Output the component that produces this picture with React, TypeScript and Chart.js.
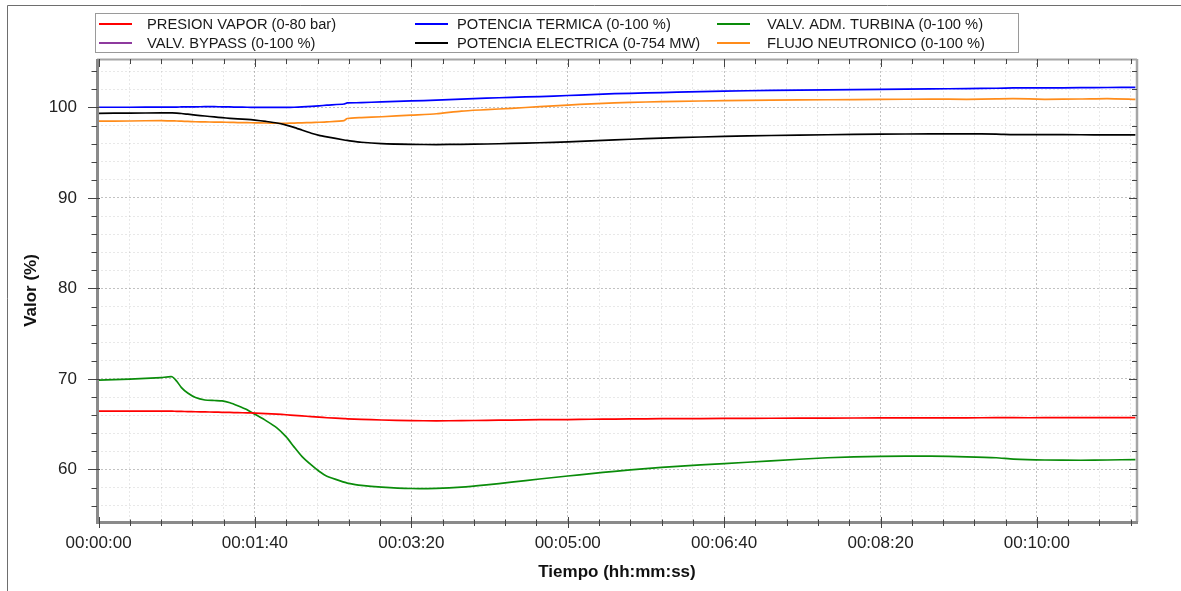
import React, { useEffect, useRef } from "react";
import { Chart, registerables } from "chart.js";

Chart.register(...registerables);

// ---- DATA ----
const timeSec = [
  0, 20, 40, 47, 50, 53, 57, 62, 68, 74, 79, 84, 89, 95, 100, 107, 114, 120, 125, 130,
  136, 141, 146, 157, 159, 168, 181, 200, 216, 232, 248, 264, 282, 300, 315, 330, 350, 370, 400, 430,
  466, 500, 532, 555, 574, 585, 605, 628, 645, 663,
];

const presionVapor = [
  66.45, 66.45, 66.45, 66.44, 66.43, 66.42, 66.4, 66.38, 66.36, 66.34, 66.32, 66.3, 66.28, 66.26, 66.23, 66.18, 66.12, 66.05, 65.98, 65.92,
  65.85, 65.78, 65.72, 65.62, 65.6, 65.54, 65.47, 65.4, 65.38, 65.4, 65.43, 65.46, 65.5, 65.52, 65.55, 65.57, 65.6, 65.62, 65.64, 65.66,
  65.68, 65.7, 65.7, 65.71, 65.72, 65.72, 65.72, 65.73, 65.73, 65.73,
];

const valvAdmTurbina = [
  69.88, 69.98, 70.15, 70.25, 69.75, 69.05, 68.45, 67.95, 67.68, 67.62, 67.58, 67.38, 67.05, 66.6, 66.1, 65.4, 64.6, 63.6, 62.5, 61.45,
  60.5, 59.8, 59.25, 58.6, 58.5, 58.25, 58.05, 57.9, 57.92, 58.05, 58.3, 58.6, 58.95, 59.28, 59.55, 59.8, 60.1, 60.35, 60.65, 60.95,
  61.3, 61.45, 61.47, 61.4, 61.3, 61.15, 61.05, 61.02, 61.05, 61.1,
];

const potenciaTermica = [
  100.02, 100.02, 100.03, 100.03, 100.04, 100.05, 100.06, 100.07, 100.08, 100.08, 100.07, 100.05, 100.03, 100.02, 100.01, 100.0, 100.0, 100.0, 100.02, 100.06,
  100.12, 100.18, 100.25, 100.38, 100.5, 100.52, 100.62, 100.72, 100.8, 100.92, 101.02, 101.12, 101.2, 101.32, 101.42, 101.52, 101.6, 101.68, 101.8, 101.88,
  101.95, 102.0, 102.05, 102.08, 102.12, 102.15, 102.15, 102.18, 102.2, 102.22,
];

const potenciaElectrica = [
  99.35, 99.37, 99.4, 99.4, 99.37, 99.33, 99.25, 99.15, 99.05, 98.95, 98.87, 98.8, 98.74, 98.68, 98.6, 98.45, 98.28, 98.05, 97.8, 97.5,
  97.15, 96.92, 96.75, 96.4, 96.35, 96.15, 96.0, 95.92, 95.9, 95.92, 95.96, 96.02, 96.1, 96.2, 96.3, 96.42, 96.55, 96.66, 96.8, 96.9,
  96.98, 97.05, 97.07, 97.08, 97.05, 97.0, 97.0, 96.98, 96.97, 96.97,
];

const flujoNeutronico = [
  98.48, 98.5, 98.55, 98.52, 98.5, 98.48, 98.45, 98.42, 98.4, 98.38, 98.37, 98.35, 98.33, 98.31, 98.3, 98.28, 98.25, 98.25, 98.27, 98.3,
  98.33, 98.36, 98.4, 98.55, 98.78, 98.88, 98.97, 99.15, 99.3, 99.6, 99.75, 99.9, 100.08, 100.25, 100.4, 100.5, 100.6, 100.67, 100.75, 100.8,
  100.85, 100.88, 100.92, 100.9, 100.95, 100.97, 100.9, 100.93, 100.98, 100.9,
];

const bypassTimeSec = [0, 663];
const valvBypass = [0, 0];

const seriesLabels = [
  "PRESION VAPOR (0-80 bar)",
  "POTENCIA TERMICA (0-100 %)",
  "VALV. ADM. TURBINA (0-100 %)",
  "VALV. BYPASS (0-100 %)",
  "POTENCIA ELECTRICA (0-754 MW)",
  "FLUJO NEUTRONICO (0-100 %)",
];
const seriesColors = ["#ff0000", "#0000ff", "#0a8c0a", "#8e3a9e", "#000000", "#ff8c1a"];

const xTitle = "Tiempo (hh:mm:ss)";
const yTitle = "Valor (%)";

const FONT = "'Liberation Sans', Arial, sans-serif";

function fmtTime(v: number): string {
  const s = Math.round(v);
  const h = Math.floor(s / 3600);
  const m = Math.floor((s % 3600) / 60);
  const sec = s % 60;
  const p = (n: number) => String(n).padStart(2, "0");
  return `${p(h)}:${p(m)}:${p(sec)}`;
}

const isMult = (v: number, step: number) => Math.abs(v / step - Math.round(v / step)) < 1e-6;

const toPoints = (xs: number[], ys: number[]) => xs.map((x, i) => ({ x, y: ys[i] }));

const framePlugin = {
  id: "framePlugin",
  beforeDraw(chart: any) {
    const ctx = chart.ctx;
    ctx.save();
    ctx.strokeStyle = "#6e6e6e";
    ctx.lineWidth = 1;
    ctx.beginPath();
    ctx.moveTo(7.5, 591);
    ctx.lineTo(7.5, 5.5);
    ctx.lineTo(1181, 5.5);
    ctx.stroke();
    ctx.restore();
  },
  afterDatasetsDraw(chart: any) {
    const ctx = chart.ctx;
    const { left, right, top, bottom } = chart.chartArea;
    const xs = chart.scales.x;
    const ys = chart.scales.y;
    ctx.save();
    ctx.strokeStyle = "#a6a6a6";
    ctx.lineWidth = 2;
    ctx.beginPath();
    ctx.moveTo(left, top + 0.5);
    ctx.lineTo(right, top + 0.5);
    ctx.stroke();
    ctx.lineWidth = 2.5;
    ctx.beginPath();
    ctx.moveTo(right, top);
    ctx.lineTo(right, bottom);
    ctx.stroke();
    ctx.strokeStyle = "#8a8a8a";
    ctx.lineWidth = 3;
    ctx.beginPath();
    ctx.moveTo(left + 0.5, top);
    ctx.lineTo(left + 0.5, bottom + 1.5);
    ctx.stroke();
    ctx.beginPath();
    ctx.moveTo(left - 1, bottom + 0.5);
    ctx.lineTo(right + 1, bottom + 0.5);
    ctx.stroke();
    ctx.strokeStyle = "#444";
    ctx.lineWidth = 1;
    ctx.beginPath();
    for (const t of xs.ticks) {
      const px = Math.round(xs.getPixelForValue(t.value)) + 0.5;
      const major = isMult(t.value, 100);
      ctx.moveTo(px, bottom - (major ? 5 : 2.5));
      ctx.lineTo(px, bottom + (major ? 6 : 4));
      ctx.moveTo(px, top);
      ctx.lineTo(px, top + (major ? 8 : 5));
    }
    for (const t of ys.ticks) {
      const py = Math.round(ys.getPixelForValue(t.value)) + 0.5;
      const major = isMult(t.value, 10);
      ctx.moveTo(left - (major ? 9 : 5.5), py);
      ctx.lineTo(left + (major ? 3 : 0), py);
      ctx.moveTo(right, py);
      ctx.lineTo(right - (major ? 8 : 5), py);
    }
    ctx.stroke();
    ctx.restore();
  },
  afterDraw(chart: any) {
    const ctx = chart.ctx;
    ctx.save();
    ctx.fillStyle = "#ffffff";
    ctx.fillRect(95.5, 13.5, 923, 39);
    ctx.strokeStyle = "#9a9a9a";
    ctx.lineWidth = 1;
    ctx.strokeRect(95.5, 13.5, 923, 39);
    const lineX = [99, 415, 717];
    const textX = [147, 457, 767];
    const rowY = [24, 43];
    ctx.font = `14.7px ${FONT}`;
    ctx.textBaseline = "middle";
    ctx.textAlign = "left";
    chart.data.datasets.forEach((ds: any, i: number) => {
      const col = i % 3;
      const row = Math.floor(i / 3);
      const y = rowY[row];
      ctx.strokeStyle = ds.borderColor;
      ctx.lineWidth = 2;
      ctx.beginPath();
      ctx.moveTo(lineX[col], y);
      ctx.lineTo(lineX[col] + 33, y);
      ctx.stroke();
      ctx.fillStyle = "#1a1a1a";
      ctx.fillText(ds.label, textX[col], y + 0.5);
    });
    ctx.restore();
  },
};

export default function App() {
  const canvasRef = useRef<HTMLCanvasElement | null>(null);

  useEffect(() => {
    if (!canvasRef.current) return;
    const seriesData = [
      toPoints(timeSec, presionVapor),
      toPoints(timeSec, potenciaTermica),
      toPoints(timeSec, valvAdmTurbina),
      toPoints(bypassTimeSec, valvBypass),
      toPoints(timeSec, potenciaElectrica),
      toPoints(timeSec, flujoNeutronico),
    ];
    const chart = new Chart(canvasRef.current, {
      type: "line",
      data: {
        datasets: seriesData.map((d, i) => ({
          label: seriesLabels[i],
          data: d,
          borderColor: seriesColors[i],
          backgroundColor: seriesColors[i],
          borderWidth: 1.7,
          pointRadius: 0,
          tension: 0.2,
          fill: false,
        })),
      },
      options: {
        animation: false,
        responsive: false,
        devicePixelRatio: 1,
        layout: { padding: { left: 0, top: 59, right: 44, bottom: 0 } },
        plugins: {
          legend: { display: false },
          tooltip: { enabled: false },
          title: { display: false },
        },
        scales: {
          x: {
            type: "linear",
            min: -1,
            max: 664,
            afterFit: (s: any) => {
              s.height = 69;
            },
            ticks: {
              stepSize: 20,
              includeBounds: false,
              autoSkip: false,
              maxRotation: 0,
              minRotation: 0,
              padding: 11,
              color: "#222",
              font: { family: FONT, size: 17 },
              callback: (v: any) => (isMult(Number(v), 100) ? fmtTime(Number(v)) : ""),
            },
            grid: {
              drawTicks: false,
              lineWidth: 1,
              color: (c: any) =>
                c.tick && isMult(c.tick.value, 100) ? "rgba(0,0,0,0.24)" : "rgba(0,0,0,0.09)",
            },
            border: { display: false, dash: [2, 2] },
            title: {
              display: true,
              text: xTitle,
              color: "#111",
              font: { family: FONT, size: 17, weight: "bold" },
              padding: { top: 0, bottom: 8 },
            },
          },
          y: {
            type: "linear",
            min: 54.2,
            max: 105.35,
            afterFit: (s: any) => {
              s.width = 97;
            },
            ticks: {
              stepSize: 2,
              includeBounds: false,
              autoSkip: false,
              padding: 20,
              color: "#222",
              font: { family: FONT, size: 17 },
              callback: (v: any) => (isMult(Number(v), 10) ? String(Math.round(Number(v))) : ""),
            },
            grid: {
              drawTicks: false,
              lineWidth: 1,
              color: (c: any) =>
                c.tick && isMult(c.tick.value, 10) ? "rgba(0,0,0,0.24)" : "rgba(0,0,0,0.09)",
            },
            border: { display: false, dash: [2, 2] },
            title: {
              display: true,
              text: yTitle,
              color: "#111",
              font: { family: FONT, size: 17, weight: "bold" },
              padding: { top: 21, bottom: 0 },
            },
          },
        },
      },
      plugins: [framePlugin],
    } as any);
    return () => chart.destroy();
  }, []);

  return (
    <div style={{ position: "fixed", left: 0, top: 0, width: 1181, height: 591, background: "#fff" }}>
      <canvas ref={canvasRef} width={1181} height={591} style={{ display: "block" }} />
    </div>
  );
}
